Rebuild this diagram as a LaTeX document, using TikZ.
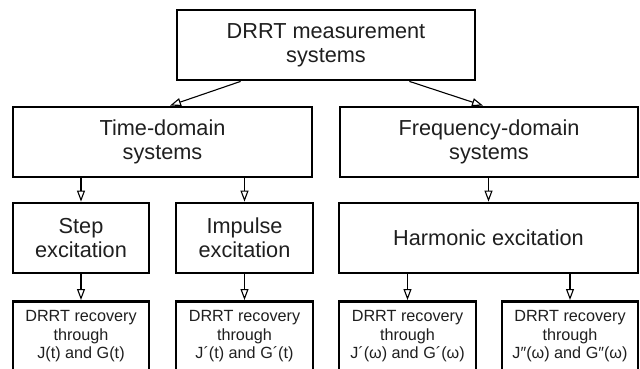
\documentclass[tikz,border=0pt]{standalone}
\usepackage{fontspec}
\setmainfont{Liberation Sans}
\usetikzlibrary{arrows.meta,calc}

\begin{document}
\begin{tikzpicture}[x=1pt,y=-1pt,
  box/.style={draw, line width=2.8pt, align=center, inner sep=0pt,
    minimum height=70pt, text=black!88,
    font=\fontsize{21.7}{24}\selectfont},
  leaf/.style={draw, line width=2.8pt, align=center, anchor=north,
    inner xsep=0pt, inner ysep=9.4pt, text=black!88,
    font=\fontsize{16.2}{18.5}\selectfont},
  link/.style={line width=1.1pt, -{Triangle[open,length=11pt,width=8pt]}}]

% canvas
\fill[white] (0,0) rectangle (640,369);
\useasboundingbox (0,0) rectangle (640,369);
\clip (0,0) rectangle (640,369);

% first two levels
\node[box, minimum width=298pt] (top)  at (326,45)   {DRRT measurement\\systems};
\node[box, minimum width=299pt] (time) at (162.5,142) {Time-domain\\systems};
\node[box, minimum width=298pt] (freq) at (489,142)  {Frequency-domain\\systems};

% excitation types
\node[box, minimum width=136pt] (step) at (81,238)    {Step\\excitation};
\node[box, minimum width=137pt] (imp)  at (244.5,238) {Impulse\\excitation};
\node[box, minimum width=299pt] (harm) at (488.5,238) {Harmonic excitation};

% recovery boxes (run off the lower edge)
\node[leaf, minimum width=136pt] (rs) at (81,300)    {DRRT recovery\\through\\J(t) and G(t)};
\node[leaf, minimum width=137pt] (ri) at (244.5,300) {DRRT recovery\\through\\J´(t) and G´(t)};
\node[leaf, minimum width=137pt] (rh1) at (407.5,300) {DRRT recovery\\through\\J´(ω) and G´(ω)};
\node[leaf, minimum width=136pt] (rh2) at (570,300)   {DRRT recovery\\through\\J″(ω) and G″(ω)};

% connectors
\draw[link] ([xshift=65pt]top.south west) -- ([xshift=7.5pt]time.north);
\draw[link] ([xshift=-67pt]top.south east) -- ([xshift=-6pt]freq.north);
\draw[link] (time.south -| step.north) -- (step.north);
\draw[link] (time.south -| imp.north) -- (imp.north);
\draw[link] (freq.south -| harm.north) -- (harm.north);
\draw[link] (step.south) -- (rs.north);
\draw[link] (imp.south) -- (ri.north);
\draw[link] (harm.south -| rh1.north) -- (rh1.north);
\draw[link] (harm.south -| rh2.north) -- (rh2.north);
\end{tikzpicture}
\end{document}
